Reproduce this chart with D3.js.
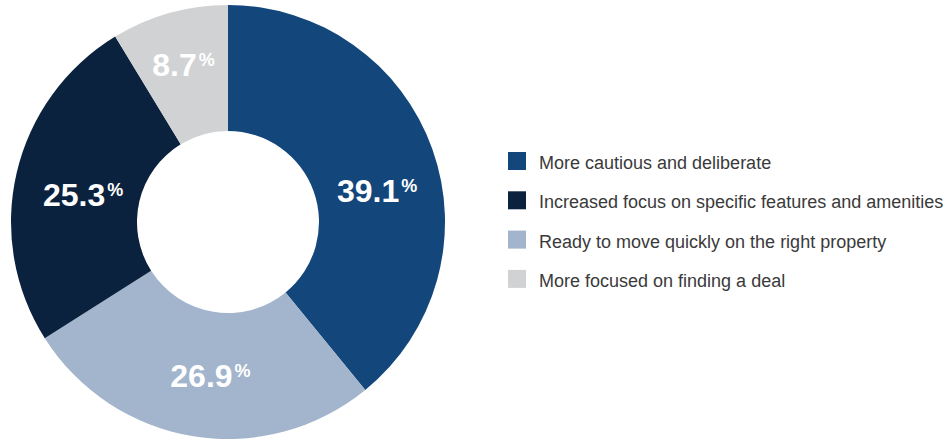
<!DOCTYPE html>
<html>
<head>
<meta charset="utf-8">
<script src="https://cdn.jsdelivr.net/npm/d3@7"></script>
<style>
  body { margin: 0; background: #fff; }
  text { font-family: "Liberation Sans", Arial, Helvetica, sans-serif; }
</style>
</head>
<body>
<div id="chart"></div>
<script>
// slices, in drawing order (clockwise from 12 o'clock)
var categories = [
  "More cautious and deliberate",
  "Ready to move quickly on the right property",
  "Increased focus on specific features and amenities",
  "More focused on finding a deal"
];
var values = [39.1, 26.9, 25.3, 8.7];
var colors = ["#13467b", "#a3b5cc", "#0b223f", "#d1d2d4"];
// legend lists the categories in another order
var legendOrder = [0, 2, 1, 3];

var width = 946;
var height = 441;
var cx = 228, cy = 222;
var outerR = 217, innerR = 91;
// small hand nudges for the percent labels, relative to the centroid
var labelShift = [[4, 20], [7, 1], [5, 7], [-3, -9]];

var svg = d3.select("#chart").append("svg")
  .attr("width", width)
  .attr("height", height);

var pie = d3.pie().sort(null).value(d => d);
var arcs = pie(values);

var arc = d3.arc().innerRadius(innerR).outerRadius(outerR);
var labelArc = d3.arc().innerRadius(154).outerRadius(154);

var g = svg.append("g")
  .attr("transform", `translate(${cx}, ${cy})`);

g.selectAll("path")
  .data(arcs).enter()
  .append("path")
  .attr("d", arc)
  .attr("fill", (d, i) => colors[i]);

var labels = g.selectAll(".pct")
  .data(arcs).enter()
  .append("text")
  .attr("class", "pct")
  .attr("text-anchor", "middle")
  .attr("fill", "#fff")
  .attr("font-weight", "bold")
  .attr("x", (d, i) => labelArc.centroid(d)[0] + labelShift[i][0])
  .attr("y", (d, i) => labelArc.centroid(d)[1] + labelShift[i][1] + 11.5);

labels.append("tspan")
  .attr("font-size", "32px")
  .text(d => d.data.toFixed(1));
labels.append("tspan")
  .attr("font-size", "18px")
  .attr("dy", -10)
  .attr("dx", 2)
  .text("%");

/* legend */
var legend = svg.append("g")
  .attr("transform", "translate(508, 152)");

var rows = legend.selectAll(".row")
  .data(legendOrder).enter()
  .append("g")
  .attr("class", "row")
  .attr("transform", (d, i) => `translate(0, ${i * 39.3})`);

rows.append("rect")
  .attr("width", 18)
  .attr("height", 18)
  .attr("fill", d => colors[d]);

rows.append("text")
  .attr("x", 31)
  .attr("y", 17)
  .attr("font-size", "18px")
  .attr("fill", "#3a3a3a")
  .text(d => categories[d]);
</script>
</body>
</html>
